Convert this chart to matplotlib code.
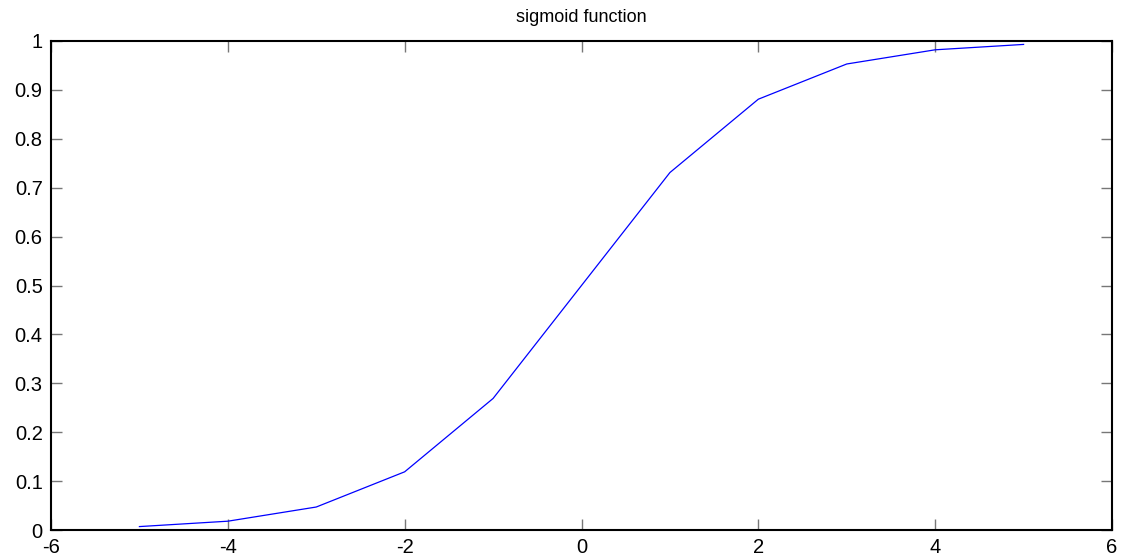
import matplotlib
matplotlib.use("Agg")
import matplotlib.pyplot as plt
from matplotlib.ticker import FuncFormatter

# sigmoid values
x_vals = [-5, -4, -3, -2, -1, 0, 1, 2, 3, 4, 5]
y_vals = [0.007, 0.018, 0.047, 0.119, 0.269, 0.5, 0.731, 0.881, 0.953, 0.982, 0.993]

x_ticks = [-6, -4, -2, 0, 2, 4, 6]
y_ticks = [0, 0.1, 0.2, 0.3, 0.4, 0.5, 0.6, 0.7, 0.8, 0.9, 1]

plt.rcParams['font.family'] = ['Liberation Sans', 'DejaVu Sans']

fig = plt.figure(figsize=(11.36, 5.6), dpi=100)
ax = fig.add_axes([51 / 1136, 1 - 530 / 560, (1112 - 51) / 1136, (530 - 41) / 560])

ax.plot(x_vals, y_vals, color='#0000ff', linewidth=0.9)

ax.set_xlim(-6, 6)
ax.set_ylim(0, 1)
ax.set_xticks(x_ticks)
ax.set_yticks(y_ticks)
ax.xaxis.set_major_formatter(FuncFormatter(lambda v, p: '%g' % v))
ax.yaxis.set_major_formatter(FuncFormatter(lambda v, p: '%g' % round(v, 2)))

ax.tick_params(direction='in', length=8, width=1, color='#777777',
               top=True, right=True, labelsize=14.5, pad=6)
for s in ax.spines.values():
    s.set_linewidth(1.5)

ax.set_title('sigmoid function', fontsize=13, pad=14)

fig.savefig('out.png', dpi=100)
